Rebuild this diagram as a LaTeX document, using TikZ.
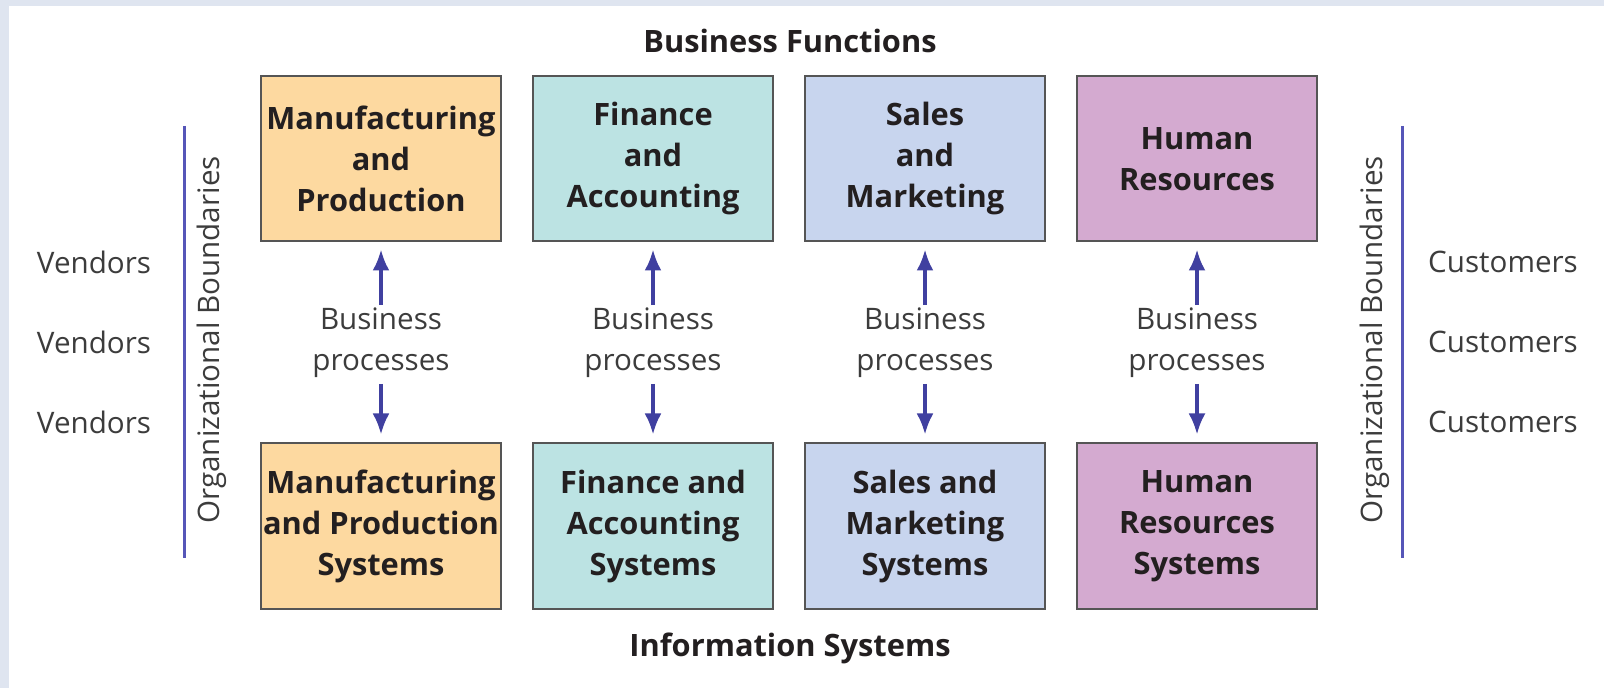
\documentclass[tikz,border=0pt]{standalone}
\usepackage{fontspec}
\setmainfont{Open Sans}
\usepackage{tikz}
\usetikzlibrary{arrows.meta,positioning,calc}
\definecolor{framebg}{HTML}{DFE5F0}
\definecolor{mfgfill}{HTML}{FDD9A0}
\definecolor{finfill}{HTML}{BCE3E3}
\definecolor{salfill}{HTML}{C8D5EE}
\definecolor{hrfill}{HTML}{D4AAD0}
\definecolor{boxline}{HTML}{555555}
\definecolor{boldtext}{HTML}{231F20}
\definecolor{softtext}{HTML}{3C3C3C}
\definecolor{flowblue}{HTML}{4040A0}
\definecolor{boundblue}{HTML}{5656B8}
\tikzstyle{chart}=[
  x=0.5pt,y=-0.5pt,>={Latex[length=10.5pt,width=8.5pt]},font=\fontsize{14.8}{20.5}\selectfont
]
\tikzstyle{funcbox}=[
  draw=boxline,line width=1pt,minimum width=120pt,minimum height=82.5pt,inner sep=0pt,
  align=center,text=boldtext,font=\fontsize{15.4}{20.5}\selectfont\bfseries
]
\tikzstyle{heading}=[
  text=boldtext,font=\fontsize{15.4}{20.5}\selectfont\bfseries
]
\tikzstyle{plain}=[
  text=softtext,align=center,inner sep=4pt
]
\tikzstyle{flow}=[
  ->,draw=flowblue,line width=1.7pt
]
\tikzstyle{boundary}=[
  draw=boundblue,line width=1.5pt
]

\begin{document}
\begin{tikzpicture}[chart]
  \useasboundingbox (0,0) rectangle (1604,688);
  \fill[framebg] (0,0) rectangle (1604,688);
  \fill[white] (9,6) rectangle (1604,688);
  \node (title) at (790,41) [heading] {Business Functions};
  \node (f1) at (381,159) [funcbox,fill=mfgfill] {Manufacturing\\and\\Production};
  \node (f2) at (653,159) [funcbox,fill=finfill] {Finance\\and\\Accounting};
  \node (f3) at (925,159) [funcbox,fill=salfill] {Sales\\and\\Marketing};
  \node (f4) at (1197,159) [funcbox,fill=hrfill] {Human\\Resources};
  \node (s1) at (381,526) [funcbox,fill=mfgfill] {Manufacturing\\and Production\\Systems};
  \node (s2) at (653,526) [funcbox,fill=finfill] {Finance and\\Accounting\\Systems};
  \node (s3) at (925,526) [funcbox,fill=salfill] {Sales and\\Marketing\\Systems};
  \node (s4) at (1197,526) [funcbox,fill=hrfill] {Human\\Resources\\Systems};
  \node (infosys) at (790,648) [heading] {Information Systems};
  \foreach \i in {1,...,4} {
    \node (p\i) at ($(f\i)!0.5!(s\i)$) [plain] {Business\\processes};
    \draw[flow,shorten <=-3pt,shorten >=3.5pt] (p\i) -- (f\i);
    \draw[flow,shorten <=-1pt,shorten >=4pt] (p\i) -- (s\i);
  }
  % organizational boundaries
  \coordinate (lt) at (184,126);
  \coordinate (lb) at (184,558);
  \coordinate (rt) at (1402,126);
  \coordinate (rb) at (1402,558);
  \draw[boundary] (lt) -- (lb);
  \draw[boundary] (rt) -- (rb);
  \node (ob1) at (212,340) [plain,rotate=90] {Organizational Boundaries};
  \node (ob2) at (1375,340) [plain,rotate=90] {Organizational Boundaries};
  \foreach \y [count=\k] in {262,342,422} {
    \node (v\k) at (94,\y) [plain] {Vendors};
    \node (c\k) at (1503,\y) [plain] {Customers};
  }
\end{tikzpicture}
\end{document}
